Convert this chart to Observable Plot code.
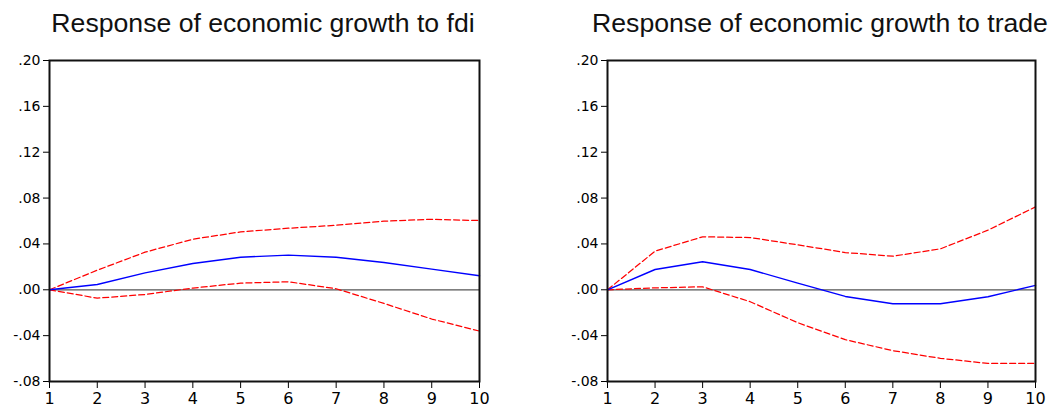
<!DOCTYPE html>
<html>
<head>
<meta charset="utf-8">
<script src="https://cdn.jsdelivr.net/npm/d3@7"></script>
<script src="https://cdn.jsdelivr.net/npm/@observablehq/plot@0.6"></script>
<style>
  html, body { margin: 0; padding: 0; background: #fff; }
  #wrap { position: relative; width: 1048px; height: 410px; overflow: hidden; background: #fff; }
  .panel { position: absolute; top: 0; }
  .title { position: absolute; top: 11px; white-space: nowrap; font-family: "Liberation Sans", Arial, sans-serif;
           font-size: 25px; line-height: 25px; color: #111; transform: translateX(-50%) scaleX(1.065); }
</style>
</head>
<body>
<div id="wrap"></div>
<script>
// ---- data ----
const periods = [1, 2, 3, 4, 5, 6, 7, 8, 9, 10];

const fdiResponse = [0, 0.0046, 0.0148, 0.0229, 0.0284, 0.0302, 0.0284, 0.0238, 0.0180, 0.0122];
const fdiUpper    = [0, 0.0171, 0.0328, 0.0441, 0.0505, 0.0537, 0.0563, 0.0598, 0.0615, 0.0604];
const fdiLower    = [0, -0.0073, -0.0041, 0.0015, 0.0058, 0.0070, 0.0009, -0.0119, -0.0255, -0.0360];

const tradeResponse = [0, 0.0177, 0.0244, 0.0177, 0.0058, -0.0058, -0.0122, -0.0122, -0.0061, 0.0038];
const tradeUpper    = [0, 0.0337, 0.0462, 0.0456, 0.0392, 0.0325, 0.0293, 0.0357, 0.0520, 0.0723];
const tradeLower    = [0, 0.0017, 0.0026, -0.0104, -0.0287, -0.0435, -0.0531, -0.0598, -0.0642, -0.0642];

const yTicks = [-0.08, -0.04, 0.00, 0.04, 0.08, 0.12, 0.16, 0.20];
const xTicks = [1, 2, 3, 4, 5, 6, 7, 8, 9, 10];
const yDomain = [-0.08, 0.20];

const titles = ["Response of economic growth to fdi", "Response of economic growth to trade"];

// ---- helpers ----
const toRows = arr => periods.map((p, i) => ({period: p, value: arr[i]}));
const fmt = v => (v < 0 ? "-" : "") + Math.abs(v).toFixed(2).replace(/^0/, "");

function panel(resp, upper, lower, ml, mr) {
  const svg = Plot.plot({
    width: 524,
    height: 410,
    marginLeft: ml,
    marginRight: mr,
    marginTop: 60,
    marginBottom: 29,
    x: {domain: [1, 10]},
    y: {domain: yDomain},
    style: {fontFamily: "'DejaVu Sans', sans-serif", color: "#000", background: "#fff", overflow: "visible"},
    marks: [
      Plot.ruleY([0], {stroke: "#555", strokeWidth: 1.2}),
      Plot.line(toRows(upper), {x: "period", y: "value", stroke: "#ff0000", strokeWidth: 1.25, strokeDasharray: "6,3"}),
      Plot.line(toRows(lower), {x: "period", y: "value", stroke: "#ff0000", strokeWidth: 1.25, strokeDasharray: "6,3"}),
      Plot.line(toRows(resp), {x: "period", y: "value", stroke: "#0000ff", strokeWidth: 1.4}),
      Plot.axisY({ticks: yTicks, tickFormat: fmt, tickSize: 6, tickPadding: 3, label: null, fontSize: 14}),
      Plot.axisX({ticks: xTicks, tickFormat: d => String(d), tickSize: 7, tickPadding: 4, label: null, fontSize: 16}),
      Plot.frame({stroke: "#111", strokeWidth: 2})
    ]
  });
  d3.select(svg).selectAll("text").each(function() {
    const g = this.closest("g[aria-label]");
    const lab = g ? g.getAttribute("aria-label") : "";
    const isX = lab.indexOf("x-") === 0;
    d3.select(this).style("font-size", isX ? "16px" : "14px", "important")
      .style("font-family", "'DejaVu Sans', sans-serif");
  });
  return svg;
}

const wrap = document.getElementById("wrap");
const specs = [
  {resp: fdiResponse, upper: fdiUpper, lower: fdiLower, left: 0, ml: 49, mr: 45, center: 263},
  {resp: tradeResponse, upper: tradeUpper, lower: tradeLower, left: 524, ml: 83, mr: 13, center: 820}
];
specs.forEach((s, i) => {
  const div = document.createElement("div");
  div.className = "panel";
  div.style.left = s.left + "px";
  div.appendChild(panel(s.resp, s.upper, s.lower, s.ml, s.mr));
  wrap.appendChild(div);
  const t = document.createElement("div");
  t.className = "title";
  t.style.left = s.center + "px";
  t.textContent = titles[i];
  wrap.appendChild(t);
});
</script>
</body>
</html>
